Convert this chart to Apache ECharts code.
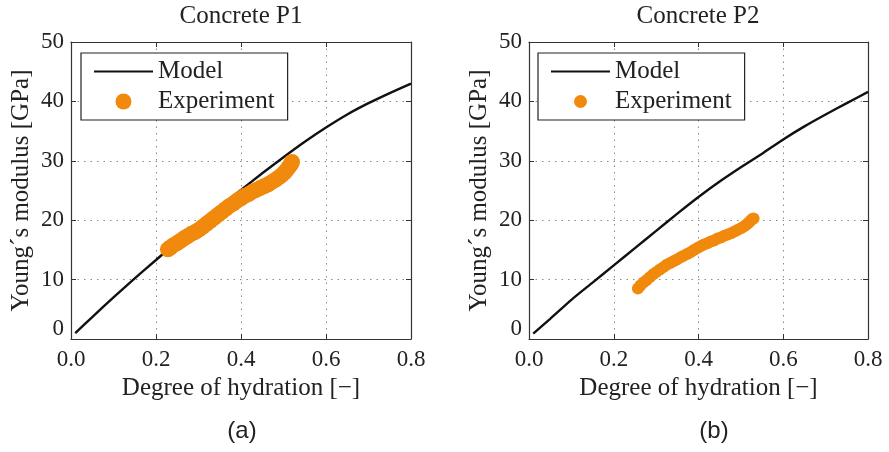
<!DOCTYPE html>
<html>
<head>
<meta charset="utf-8">
<script src="https://cdn.jsdelivr.net/npm/echarts@6/dist/echarts.min.js"></script>
<style>
  html, body { margin: 0; padding: 0; background: #fff; }
  #chart { width: 889px; height: 452px; }
</style>
</head>
<body>
<div id="chart"></div>
<script>
// Degree of hydration ticks and Young's modulus ticks
const xTicks = [0.0, 0.2, 0.4, 0.6, 0.8];
const yTicks = [0, 10, 20, 30, 40, 50];

// Model prediction, concrete P1: [degree of hydration, E (GPa)]
const modelP1 = [
  [0.01, 1.0], [0.05, 3.7], [0.10, 7.0], [0.15, 10.2], [0.20, 13.3],
  [0.25, 16.4], [0.30, 19.4], [0.35, 22.3], [0.40, 25.1], [0.45, 27.9],
  [0.50, 30.6], [0.55, 33.2], [0.60, 35.6], [0.65, 37.8], [0.70, 39.7],
  [0.75, 41.4], [0.80, 43.0]
];

// Measured modulus, concrete P1
const expP1 = [
  [0.228, 15.1], [0.234, 15.4], [0.241, 15.8], [0.249, 16.1], [0.257, 16.5],
  [0.265, 16.9], [0.274, 17.3], [0.283, 17.7], [0.292, 18.0], [0.301, 18.4],
  [0.310, 18.9], [0.319, 19.4], [0.328, 19.9], [0.337, 20.4], [0.346, 20.9],
  [0.355, 21.4], [0.364, 21.9], [0.373, 22.4], [0.382, 22.8], [0.391, 23.3],
  [0.400, 23.7], [0.409, 24.1], [0.418, 24.4], [0.427, 24.8], [0.436, 25.1],
  [0.445, 25.4], [0.454, 25.7], [0.463, 26.0], [0.472, 26.4], [0.481, 26.8],
  [0.489, 27.2], [0.496, 27.6], [0.502, 28.0], [0.507, 28.4], [0.511, 28.8],
  [0.515, 29.2], [0.518, 29.5], [0.520, 29.8]
];

// Model prediction, concrete P2
const modelP2 = [
  [0.01, 0.9], [0.05, 3.4], [0.10, 6.6], [0.15, 9.5], [0.20, 12.4],
  [0.25, 15.3], [0.30, 18.2], [0.35, 21.1], [0.40, 23.9], [0.45, 26.5],
  [0.50, 28.9], [0.55, 31.2], [0.60, 33.6], [0.65, 35.8], [0.70, 37.8],
  [0.75, 39.7], [0.80, 41.6]
];

// Measured modulus, concrete P2
const expP2 = [
  [0.257, 8.5], [0.263, 9.0], [0.270, 9.5], [0.277, 9.9], [0.285, 10.4],
  [0.293, 10.9], [0.301, 11.3], [0.309, 11.7], [0.317, 12.1], [0.325, 12.5],
  [0.333, 12.8], [0.341, 13.1], [0.349, 13.4], [0.357, 13.7], [0.365, 14.0],
  [0.373, 14.3], [0.381, 14.6], [0.389, 15.0], [0.397, 15.3], [0.405, 15.6],
  [0.413, 15.9], [0.421, 16.1], [0.429, 16.4], [0.437, 16.6], [0.445, 16.9],
  [0.453, 17.1], [0.461, 17.4], [0.469, 17.6], [0.477, 17.8], [0.485, 18.1],
  [0.493, 18.4], [0.501, 18.7], [0.508, 19.0], [0.514, 19.3], [0.519, 19.6],
  [0.523, 19.9], [0.527, 20.2], [0.530, 20.3]
];

const panelTitles = ['Concrete P1', 'Concrete P2'];
const panelTags = ['(a)', '(b)'];
const xName = 'Degree of hydration [\u2212]';
const yName = 'Young\u00b4s modulus [GPa]';
const legendNames = ['Model', 'Experiment'];

const SERIF = '"Liberation Serif", "Times New Roman", serif';
const SANS = '"Liberation Sans", Arial, sans-serif';
const ORANGE = '#f0890c';
const INK = '#222';

const grids = [
  { left: 71, top: 42, width: 340, height: 297 },
  { left: 529, top: 42, width: 339, height: 297 }
];

const gridLine = { show: true, lineStyle: { color: '#8a8a8a', width: 1, type: [1.5, 5] } };
const frameLine = { show: true, onZero: false, lineStyle: { color: '#333', width: 1.2 } };
const innerTick = { show: true, inside: true, length: 5, lineStyle: { color: '#333', width: 1 } };

function xAxes(gi) {
  const base = { type: 'value', gridIndex: gi, min: xTicks[0], max: xTicks[xTicks.length - 1],
    interval: xTicks[1] - xTicks[0], axisLine: frameLine, axisTick: innerTick };
  return [
    Object.assign({}, base, {
      position: 'bottom', splitLine: gridLine,
      name: xName, nameLocation: 'middle', nameGap: 37,
      nameTextStyle: { fontFamily: SERIF, fontSize: 25, color: INK },
      axisLabel: { margin: 9, fontFamily: SERIF, fontSize: 23, color: INK,
        formatter: v => v.toFixed(1) }
    }),
    Object.assign({}, base, { position: 'top', splitLine: { show: false }, axisLabel: { show: false } })
  ];
}

function yAxes(gi) {
  const base = { type: 'value', gridIndex: gi, min: yTicks[0], max: yTicks[yTicks.length - 1],
    interval: yTicks[1] - yTicks[0], axisLine: frameLine, axisTick: innerTick };
  return [
    Object.assign({}, base, {
      position: 'left', splitLine: gridLine,
      name: yName, nameLocation: 'middle', nameGap: 37, nameRotate: 90,
      nameTextStyle: { fontFamily: SERIF, fontSize: 25, color: INK },
      axisLabel: { margin: 7, fontFamily: SERIF, fontSize: 23, color: INK,
        formatter: v => v === 0 ? '{z|0}' : String(v),
        rich: { z: { fontFamily: SERIF, fontSize: 23, color: INK, padding: [0, 0, 20, 0] } } }
    }),
    Object.assign({}, base, { position: 'right', splitLine: { show: false }, axisLabel: { show: false } })
  ];
}

function legendFor(left, markerSize) {
  return {
    orient: 'vertical', left: left, top: 53,
    // the model entry shows only its line, no marker
    data: [{ name: legendNames[0], itemStyle: { opacity: 0 } }, legendNames[1]],
    selectedMode: false,
    itemWidth: 59, itemHeight: markerSize, itemGap: 5,
    padding: [6, 13, 6, 12],
    borderColor: '#222', borderWidth: 1.2, borderRadius: 0,
    backgroundColor: '#fff',
    textStyle: { fontFamily: SERIF, fontSize: 25, color: INK }
  };
}

function lineSeries(data, xi, yi) {
  return { name: legendNames[0], type: 'line', xAxisIndex: xi, yAxisIndex: yi, data: data,
    smooth: 0.25, symbol: 'none', showSymbol: false,
    lineStyle: { color: '#111', width: 2.4 },
    itemStyle: { color: '#111' }, z: 3, animation: false };
}

function dotSeries(data, xi, yi, size) {
  return { name: legendNames[1], type: 'scatter', xAxisIndex: xi, yAxisIndex: yi, data: data,
    symbol: 'circle', symbolSize: size, itemStyle: { color: ORANGE, opacity: 1 }, z: 4, animation: false };
}

const chart = echarts.init(document.getElementById('chart'), null, { renderer: 'canvas' });

chart.setOption({
  backgroundColor: '#fff',
  animation: false,
  grid: grids,
  xAxis: [...xAxes(0), ...xAxes(1)],
  yAxis: [...yAxes(0), ...yAxes(1)],
  legend: [legendFor(81, 16), legendFor(538, 13)],
  series: [
    lineSeries(modelP1, 0, 0),
    dotSeries(expP1, 0, 0, 16),
    lineSeries(modelP2, 2, 2),
    dotSeries(expP2, 2, 2, 12)
  ],
  graphic: [
    { type: 'text', x: 241, y: 16, style: { text: panelTitles[0], font: '25px ' + SERIF, fill: INK, align: 'center', verticalAlign: 'middle' } },
    { type: 'text', x: 698, y: 16, style: { text: panelTitles[1], font: '25px ' + SERIF, fill: INK, align: 'center', verticalAlign: 'middle' } },
    { type: 'text', x: 242, y: 431, style: { text: panelTags[0], font: '24px ' + SANS, fill: INK, align: 'center', verticalAlign: 'middle' } },
    { type: 'text', x: 714, y: 431, style: { text: panelTags[1], font: '24px ' + SANS, fill: INK, align: 'center', verticalAlign: 'middle' } }
  ]
});
</script>
</body>
</html>
